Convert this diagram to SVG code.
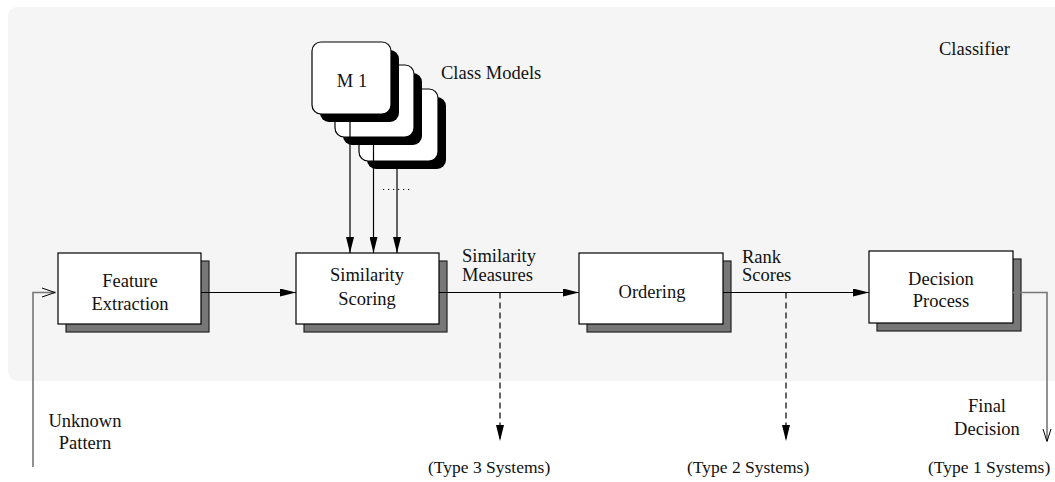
<svg xmlns="http://www.w3.org/2000/svg" width="1055" height="482" viewBox="0 0 1055 482">
  <defs>
    <marker id="solid" viewBox="0 0 16 8" refX="16" refY="4" markerWidth="16" markerHeight="8" markerUnits="userSpaceOnUse" orient="auto">
      <path d="M0,0 L16,4 L0,8 Z" fill="#000"/>
    </marker>
  </defs>
  <style>
    text { font-family: "Liberation Serif", "Times New Roman", serif; font-size: 18.5px; fill: #111; }
    .mid { text-anchor: middle; }
    .sys { font-size: 17.5px; }
    .box { fill: #fff; stroke: #000; stroke-width: 1.2; }
    .shadow { fill: #777; stroke: #222; stroke-width: 1.2; }
    .card { fill: #fff; stroke: #000; stroke-width: 1.2; }
    .cardshadow { fill: #000; }
    .wire { fill: none; stroke: #000; stroke-width: 1.2; }
    .dash { fill: none; stroke: #000; stroke-width: 1.2; stroke-dasharray: 6 4; }
    .io { fill: none; stroke: #777; stroke-width: 1.6; }
  </style>

  <!-- classifier panel -->
  <rect id="classifier" x="8" y="7" width="1070" height="374" rx="9" fill="#f5f5f5"/>
  <text x="939" y="55">Classifier</text>

  <!-- stacked class models -->
  <g id="class-models">
    <rect class="cardshadow" x="367" y="97" width="79" height="72" rx="9"/>
    <rect class="card" x="359" y="89" width="79" height="72" rx="9"/>
    <rect class="cardshadow" x="343" y="73" width="79" height="72" rx="9"/>
    <rect class="card" x="335" y="65" width="79" height="72" rx="9"/>
    <rect class="cardshadow" x="320" y="50" width="79" height="72" rx="9"/>
    <rect class="card" x="312" y="42" width="79" height="72" rx="9"/>
    <text class="mid" x="352" y="87">M 1</text>
    <text x="441" y="79">Class Models</text>
  </g>

  <g id="feature-extraction">
    <rect class="shadow" x="66" y="261" width="143" height="71"/>
    <rect class="box" x="58" y="253" width="143" height="71"/>
    <text class="mid" x="130" y="287">Feature</text>
    <text class="mid" x="130" y="310">Extraction</text>
  </g>

  <g id="similarity-scoring">
    <rect class="shadow" x="304" y="261" width="143" height="71"/>
    <rect class="box" x="296" y="253" width="143" height="71"/>
    <text class="mid" x="367" y="281">Similarity</text>
    <text class="mid" x="367" y="305">Scoring</text>
  </g>

  <g id="ordering">
    <rect class="shadow" x="587" y="261" width="144" height="71"/>
    <rect class="box" x="579" y="253" width="144" height="71"/>
    <text class="mid" x="652" y="298">Ordering</text>
  </g>

  <g id="decision-process">
    <rect class="shadow" x="877" y="259" width="144" height="72"/>
    <rect class="box" x="869" y="251" width="144" height="72"/>
    <text class="mid" x="941" y="285">Decision</text>
    <text class="mid" x="941" y="307">Process</text>
  </g>

  <g id="connectors">
    <!-- model outputs into scoring -->
    <line class="wire" x1="350" y1="122" x2="350" y2="253" marker-end="url(#solid)"/>
    <line class="wire" x1="373.5" y1="145" x2="373.5" y2="253" marker-end="url(#solid)"/>
    <line class="wire" x1="397" y1="169" x2="397" y2="253" marker-end="url(#solid)"/>
    <line x1="383" y1="189.5" x2="411" y2="189.5" stroke="#000" stroke-width="1" stroke-dasharray="1.2 3.8"/>

    <!-- unknown pattern input -->
    <polyline class="io" points="33,467 33,292.5 56,292.5"/>
    <path d="M42,288 L55,292.5 L42,297" fill="none" stroke="#000" stroke-width="1"/>

    <!-- main chain -->
    <line class="wire" x1="201" y1="292.5" x2="296" y2="292.5" marker-end="url(#solid)"/>
    <line class="wire" x1="439" y1="292.5" x2="579" y2="292.5" marker-end="url(#solid)"/>
    <line class="wire" x1="723" y1="292.5" x2="869" y2="292.5" marker-end="url(#solid)"/>

    <!-- side outputs -->
    <line class="dash" x1="500" y1="292.5" x2="500" y2="441" marker-end="url(#solid)"/>
    <line class="dash" x1="786" y1="292.5" x2="786" y2="441" marker-end="url(#solid)"/>

    <!-- final decision output -->
    <polyline class="io" points="1013,292.5 1047,292.5 1047,441"/>
    <path d="M1043,429 L1047,441.5 L1051,429" fill="none" stroke="#000" stroke-width="1"/>
  </g>

  <!-- edge labels -->
  <text x="462" y="262">Similarity</text>
  <text x="462" y="281">Measures</text>
  <text x="742" y="263">Rank</text>
  <text x="742" y="281">Scores</text>
  <text class="mid" x="85" y="427">Unknown</text>
  <text class="mid" x="85" y="449">Pattern</text>
  <text class="mid" x="987" y="412">Final</text>
  <text class="mid" x="987" y="435">Decision</text>
  <text class="sys" x="428" y="473">(Type 3 Systems)</text>
  <text class="sys" x="687" y="473">(Type 2 Systems)</text>
  <text class="sys" x="928" y="473">(Type 1 Systems)</text>
</svg>
